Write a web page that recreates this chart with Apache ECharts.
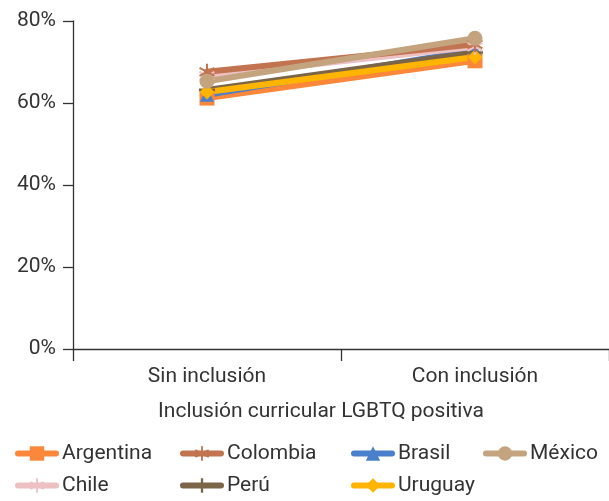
<!DOCTYPE html>
<html><head><meta charset="utf-8">
<script src="https://cdn.jsdelivr.net/npm/echarts@6/dist/echarts.min.js"></script>
<style>html,body{margin:0;padding:0;background:#fff}#c{width:609px;height:501px}</style>
</head><body><div id="c"></div>
<script>
const categories = ['Sin inclusión', 'Con inclusión'];
const yTicks = [0, 20, 40, 60, 80];
const argentina = [61.2, 70.3];
const colombia = [67.6, 74.3];
const brasil = [62.0, 72.9];
const mexico = [65.3, 75.8];
const chile = [66.6, 73.7];
const peru = [63.2, 72.3];
const uruguay = [62.7, 71.2];

const asterisk = 'path://M8.8,0 L11.2,0 L11.2,20 L8.8,20 Z M0.74,6.04 L1.94,3.96 L19.26,13.96 L18.06,16.04 Z M1.94,16.04 L0.74,13.96 L18.06,3.96 L19.26,6.04 Z';
const plus = 'path://M8.4,0 L11.6,0 L11.6,8.4 L20,8.4 L20,11.6 L11.6,11.6 L11.6,20 L8.4,20 L8.4,11.6 L0,11.6 L0,8.4 L8.4,8.4 Z';

const FONT = 'Roboto';
const FS = 21;
const TXT = '#333';
const seriesDefs = [
  {name:'Argentina', data:argentina, color:'#FA873A', symbol:'rect', size:15, leg:[15,443]},
  {name:'Brasil', data:brasil, color:'#4A7FCB', symbol:'triangle', size:14, leg:[351,443]},
  {name:'Perú', data:peru, color:'#7B6549', symbol:plus, size:16, leg:[180,475]},
  {name:'Uruguay', data:uruguay, color:'#FFB400', symbol:'diamond', size:15, leg:[351,475]},
  {name:'Chile', data:chile, color:'#EDC0C4', symbol:asterisk, size:16, leg:[15,475]},
  {name:'Colombia', data:colombia, color:'#C27450', symbol:asterisk, size:16, leg:[180,443]},
  {name:'México', data:mexico, color:'#C3A47E', symbol:'circle', size:15, leg:[483,443]}
];

const chart = echarts.init(document.getElementById('c'), null, {renderer:'canvas'});
chart.setOption({
  animation:false,
  textStyle:{fontFamily:FONT},
  grid:{left:73, top:21, width:548, bottom:152, containLabel:false},
  legend: seriesDefs.map(s => ({
    data:[s.name], left:s.leg[0], top:s.leg[1], itemWidth:38, itemHeight:18, itemGap:10,
    lineStyle:{width:6, cap:'round'},
    textStyle:{fontFamily:FONT, fontSize:FS, color:TXT, padding:[0,0,0,1]}, padding:0
  })),
  xAxis:{
    type:'category', data:categories, boundaryGap:true,
    axisLine:{lineStyle:{color:'#333', width:1.3}},
    axisTick:{show:true, length:12, lineStyle:{color:'#333', width:1.3}},
    axisLabel:{fontSize:FS, color:TXT, margin:17, fontFamily:FONT},
    name:'Inclusión curricular LGBTQ positiva', nameLocation:'middle', nameGap:52,
    nameTextStyle:{fontSize:FS, color:TXT, fontFamily:FONT, padding:[0,40,0,0]}
  },
  yAxis:{
    type:'value', min:0, max:80, interval:20,
    axisLine:{show:true, lineStyle:{color:'#333', width:1.3}},
    axisTick:{show:true, length:10, lineStyle:{color:'#333', width:1.3}},
    splitLine:{show:false},
    axisLabel:{fontSize:FS, color:TXT, margin:17, fontFamily:FONT,
      formatter: v => yTicks.includes(v) ? v + '%' : ''}
  },
  series: seriesDefs.map(s => ({
    name:s.name, type:'line', data:s.data, symbol:s.symbol, symbolSize:s.size,
    itemStyle:{color:s.color}, lineStyle:{color:s.color, width:6, cap:'round'},
    showSymbol:true
  }))
});
</script></body></html>
